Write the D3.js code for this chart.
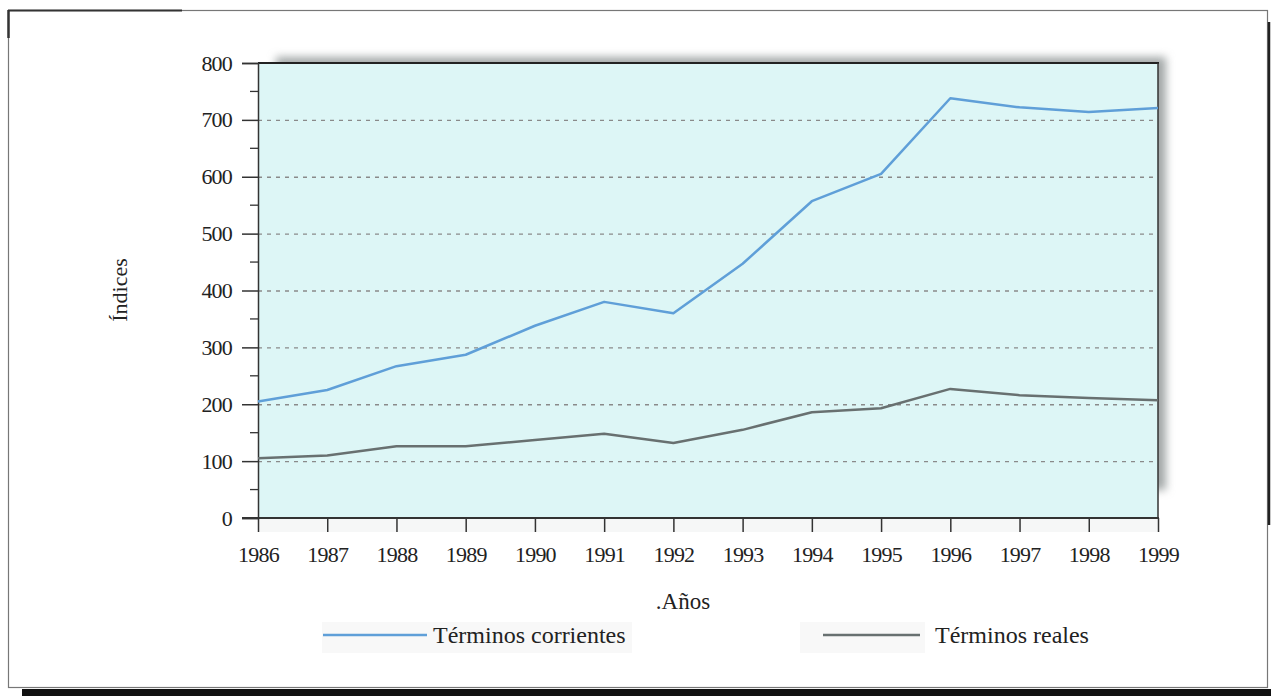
<!DOCTYPE html>
<html>
<head>
<meta charset="utf-8">
<script src="https://cdn.jsdelivr.net/npm/d3@7"></script>
<style>
	body { margin: 0; background: #fff; }
	svg { display: block; font-family: "Liberation Serif", "DejaVu Serif", serif; }
</style>
</head>
<body>
<div id="chart"></div>
<script>
const years = [1986, 1987, 1988, 1989, 1990, 1991, 1992, 1993, 1994, 1995, 1996, 1997, 1998, 1999];
const corrientes = [205, 225, 267, 287, 338, 380, 360, 447, 557, 605, 738, 722, 714, 721];
const reales = [105, 110, 126, 126, 137, 148, 132, 155, 186, 193, 227, 216, 211, 207];
const yTicks = [0, 100, 200, 300, 400, 500, 600, 700, 800];
const yMinor = [50, 150, 250, 350, 450, 550, 650, 750];
const seriesNames = ["Términos corrientes", "Términos reales"];

const W = 1271, H = 696;
const plotL = 258, plotR = 1158, plotT = 63, plotB = 518;
const serif = "Liberation Serif, serif";

const svg = d3.select("#chart").append("svg").attr("width", W).attr("height", H);

// outer frame
svg.append("rect").attr("x", 8.5).attr("y", 10.5).attr("width", 1259).attr("height", 677)
	.attr("fill", "none").attr("stroke", "#777").attr("stroke-width", 1.2);
svg.append("line").attr("x1", 8).attr("x2", 182).attr("y1", 10.5).attr("y2", 10.5)
	.attr("stroke", "#333").attr("stroke-width", 2);
svg.append("line").attr("x1", 8.5).attr("x2", 8.5).attr("y1", 10).attr("y2", 38)
	.attr("stroke", "#333").attr("stroke-width", 2.5);
svg.append("line").attr("x1", 1269).attr("x2", 1269).attr("y1", 22).attr("y2", 525)
	.attr("stroke", "#222").attr("stroke-width", 2.5);
svg.append("rect").attr("x", 22).attr("y", 689).attr("width", W - 22).attr("height", 7).attr("fill", "#111");

const x = d3.scaleLinear().domain([1986, 1999]).range([plotL, plotR]);
const y = d3.scaleLinear().domain([0, 800]).range([plotB, plotT]);

// shadow
const defs = svg.append("defs");
const blur = defs.append("filter").attr("id", "shadow").attr("x", "-5%").attr("y", "-20%").attr("width", "110%").attr("height", "140%");
blur.append("feGaussianBlur").attr("stdDeviation", 4);
svg.append("rect").attr("x", plotL + 18).attr("y", plotT - 6).attr("width", plotR - plotL - 10).attr("height", plotB - plotT - 22)
	.attr("fill", "#a3a8a8").attr("filter", "url(#shadow)");

// plot background
svg.append("rect").attr("x", plotL).attr("y", plotT).attr("width", plotR - plotL).attr("height", plotB - plotT)
	.attr("fill", "#ddf6f6");
svg.append("rect").attr("x", plotL).attr("y", plotB).attr("width", plotR - plotL).attr("height", 14)
	.attr("fill", "#f6f7f7");

// grid
svg.append("g").selectAll("line").data(yTicks.filter(d => d > 0 && d < 800)).join("line")
	.attr("x1", plotL).attr("x2", plotR)
	.attr("y1", d => y(d) + 0.5).attr("y2", d => y(d) + 0.5)
	.attr("stroke", "#8a8a8a").attr("stroke-width", 1.3).attr("stroke-dasharray", "4,5");

// border top/right
svg.append("line").attr("x1", plotL).attr("x2", plotR + 1).attr("y1", plotT).attr("y2", plotT)
	.attr("stroke", "#222").attr("stroke-width", 2);
svg.append("line").attr("x1", plotR).attr("x2", plotR).attr("y1", plotT).attr("y2", plotB)
	.attr("stroke", "#333").attr("stroke-width", 1.5);

// y axis
const yAxis = svg.append("g").attr("transform", `translate(${plotL},0)`)
	.call(d3.axisLeft(y).tickValues(yTicks).tickSize(16).tickPadding(10));
yAxis.select(".domain").attr("stroke", "#333").attr("stroke-width", 1.5);
yAxis.selectAll(".tick line").attr("stroke", "#333").attr("stroke-width", 1.5);
yAxis.selectAll(".tick text").attr("font-size", 22).attr("letter-spacing", -0.8).attr("fill", "#222")
	.attr("font-family", serif);
svg.append("g").selectAll("line").data(yMinor).join("line")
	.attr("x1", plotL - 8).attr("x2", plotL).attr("y1", d => y(d)).attr("y2", d => y(d))
	.attr("stroke", "#333").attr("stroke-width", 1.3);

// x axis
const xAxis = svg.append("g").attr("transform", `translate(0,${plotB})`)
	.call(d3.axisBottom(x).tickValues(years).tickFormat(d3.format("d")).tickSize(14).tickPadding(14));
xAxis.select(".domain").remove();
xAxis.selectAll(".tick line").attr("stroke", "#333").attr("stroke-width", 1.5);
xAxis.selectAll(".tick text").attr("font-size", 22).attr("letter-spacing", -0.8).attr("fill", "#222")
	.attr("font-family", serif);
svg.append("line").attr("x1", plotL - 16).attr("x2", plotR + 1).attr("y1", plotB).attr("y2", plotB)
	.attr("stroke", "#333").attr("stroke-width", 1.8);

// lines
const line = d3.line().x((d, i) => x(years[i])).y(d => y(d));
svg.append("path").datum(reales).attr("d", line)
	.attr("fill", "none").attr("stroke", "#687070").attr("stroke-width", 2.5).attr("stroke-linejoin", "round");
svg.append("path").datum(corrientes).attr("d", line)
	.attr("fill", "none").attr("stroke", "#5f9fd8").attr("stroke-width", 2.5).attr("stroke-linejoin", "round");

// axis titles
svg.append("text").attr("transform", "translate(127,290) rotate(-90)").attr("text-anchor", "middle")
	.attr("font-size", 22).attr("fill", "#222").text("Índices");
svg.append("text").attr("x", 683).attr("y", 609).attr("text-anchor", "middle")
	.attr("font-size", 23).attr("fill", "#222").text(".Años");

// legend
const legend = [
	{ name: seriesNames[0], color: "#5f9fd8", x1: 323, x2: 427, tx: 433, bg: [322, 632] },
	{ name: seriesNames[1], color: "#687070", x1: 823, x2: 920, tx: 935, bg: [800, 925] }
];
const lg = svg.append("g").selectAll("g").data(legend).join("g");
lg.append("rect").attr("x", d => d.bg[0]).attr("y", 622).attr("width", d => d.bg[1] - d.bg[0]).attr("height", 31)
	.attr("fill", "#f8f8f8");
lg.append("line").attr("x1", d => d.x1).attr("x2", d => d.x2).attr("y1", 635).attr("y2", 635)
	.attr("stroke", d => d.color).attr("stroke-width", 2.5);
lg.append("text").attr("x", d => d.tx).attr("y", 643).attr("font-size", 24).attr("fill", "#222").text(d => d.name);
</script>
</body>
</html>
